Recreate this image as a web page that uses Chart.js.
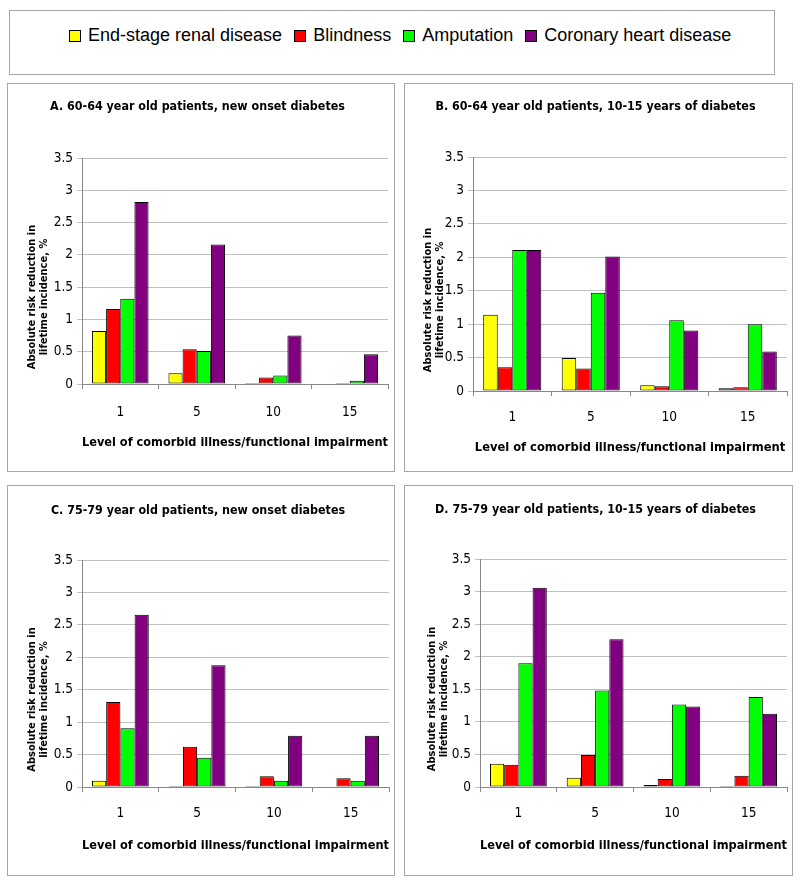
<!DOCTYPE html>
<html>
<head>
<meta charset="utf-8">
<script src="https://cdn.jsdelivr.net/npm/chart.js@4.4.1/dist/chart.umd.min.js"></script>
<style>
  body { margin: 0; background: #fff; width: 800px; height: 882px; position: relative; overflow: hidden; }
  .box { position: absolute; border: 1px solid #a6a6a6; box-sizing: border-box; }
  .wrap { position: absolute; }
  #legend { position: absolute; left: 69px; top: 25px; display: flex; align-items: center;
            font-family: 'Liberation Sans', Arial, sans-serif; font-size: 18px; color: #000; white-space: nowrap; }
  #legend span.sw { display: inline-block; width: 10px; height: 10px; border: 1px solid #000; margin-right: 7px; }
  #legend span.lbl { margin-right: 12px; }
</style>
</head>
<body>
<div class="box" style="left:9px;top:10px;width:766px;height:65px"></div>
<div id="legend"></div>

<script>
const levels = ['1', '5', '10', '15'];
const seriesNames = ['End-stage renal disease', 'Blindness', 'Amputation', 'Coronary heart disease'];
const seriesColors = ['#ffff00', '#ff0000', '#00ff00', '#800080'];
const yTicks = [0, 0.5, 1, 1.5, 2, 2.5, 3, 3.5];
const xTitle = 'Level of comorbid illness/functional impairment';
const yTitle = ['Absolute risk reduction in', 'lifetime incidence, %'];

// A. 60-64, new onset
const renalA = [0.82, 0.165, 0.015, 0];
const blindA = [1.16, 0.54, 0.10, 0.015];
const amputA = [1.32, 0.51, 0.13, 0.05];
const chdA = [2.82, 2.16, 0.75, 0.46];

// B. 60-64, 10-15 years
const renalB = [1.14, 0.495, 0.085, 0.04];
const blindB = [0.355, 0.335, 0.07, 0.055];
const amputB = [2.11, 1.47, 1.06, 1.0];
const chdB = [2.11, 2.01, 0.905, 0.59];

// C. 75-79, new onset
const renalC = [0.097, 0.015, 0.015, 0];
const blindC = [1.31, 0.62, 0.164, 0.133];
const amputC = [0.907, 0.45, 0.097, 0.097];
const chdC = [2.655, 1.876, 0.79, 0.79];

// D. 75-79, 10-15 years
const renalD = [0.358, 0.143, 0.03, 0.015];
const blindD = [0.342, 0.49, 0.123, 0.174];
const amputD = [1.90, 1.48, 1.267, 1.38];
const chdD = [3.06, 2.27, 1.237, 1.124];

const panelTitles = [
  'A. 60-64 year old patients, new onset diabetes',
  'B. 60-64 year old patients, 10-15 years of diabetes',
  'C. 75-79 year old patients, new onset diabetes',
  'D. 75-79 year old patients, 10-15 years of diabetes'
];
const panelSeries = [
  [renalA, blindA, amputA, chdA],
  [renalB, blindB, amputB, chdB],
  [renalC, blindC, amputC, chdC],
  [renalD, blindD, amputD, chdD]
];

// panel boxes and plot area positions (relative to box)
const layouts = [
  { left: 7, top: 83, w: 388, h: 389, pl: 75, pt: 75, pr: 381, pb: 301, tc: 24, xl: 329, xt: 360, yt: 25 },
  { left: 404, top: 83, w: 389, h: 389, pl: 69, pt: 74, pr: 383, pb: 308, tc: 24, xl: 334, xt: 365, yt: 24 },
  { left: 7, top: 485, w: 388, h: 391, pl: 75, pt: 75, pr: 382, pb: 302, tc: 26, xl: 328, xt: 361, yt: 25 },
  { left: 404, top: 485, w: 389, h: 391, pl: 76, pt: 74, pr: 383, pb: 302, tc: 25, xl: 328, xt: 361, yt: 28 }
];

const narrow = "'Liberation Sans Narrow', 'DejaVu Sans Condensed', 'Arial Narrow', sans-serif";

// legend
const legendEl = document.getElementById('legend');
seriesNames.forEach((name, i) => {
  const sw = document.createElement('span');
  sw.className = 'sw';
  sw.style.background = seriesColors[i];
  const lbl = document.createElement('span');
  lbl.className = 'lbl';
  lbl.textContent = name;
  legendEl.appendChild(sw);
  legendEl.appendChild(lbl);
});

// y axis title, drawn a bit below the plot centre like the original
const yTitlePlugin = {
  id: 'yTitle',
  afterDraw(chart, args, opts) {
    const { ctx, chartArea } = chart;
    ctx.save();
    ctx.font = 'bold 11px ' + narrow;
    ctx.fillStyle = '#000';
    ctx.textAlign = 'center';
    ctx.textBaseline = 'middle';
    ctx.translate(opts.x, (chartArea.top + chartArea.bottom) / 2 + 26);
    ctx.rotate(-Math.PI / 2);
    yTitle.forEach((t, i) => ctx.fillText(t, 0, i * 12));
    ctx.restore();
  }
};

layouts.forEach((L, p) => {
  const box = document.createElement('div');
  box.className = 'box';
  Object.assign(box.style, { left: L.left + 'px', top: L.top + 'px', width: L.w + 'px', height: L.h + 'px' });
  document.body.appendChild(box);

  const wrap = document.createElement('div');
  wrap.className = 'wrap';
  Object.assign(wrap.style, { left: L.left + 'px', top: L.top + 'px', width: L.w + 'px', height: L.h + 'px' });
  const canvas = document.createElement('canvas');
  canvas.width = L.w;
  canvas.height = L.h;
  wrap.appendChild(canvas);
  document.body.appendChild(wrap);

  const titleLh = 16;
  const titlePadTop = L.tc - titleLh / 2;
  const tickLh = 16.2;

  new Chart(canvas.getContext('2d'), {
    type: 'bar',
    data: {
      labels: levels,
      datasets: panelSeries[p].map((vals, i) => ({
        label: seriesNames[i],
        data: vals,
        backgroundColor: seriesColors[i],
        borderColor: '#000',
        borderWidth: 1,
        borderSkipped: false,
        barPercentage: 1,
        categoryPercentage: 0.74
      }))
    },
    options: {
      responsive: false,
      animation: false,
      devicePixelRatio: 1,
      layout: { padding: { left: 0, top: 0, bottom: 0, right: L.w - L.pr } },
      plugins: {
        legend: { display: false },
        tooltip: { enabled: false },
        title: {
          display: true,
          text: panelTitles[p],
          color: '#000',
          font: { family: narrow, size: 12.4, weight: 'bold', lineHeight: titleLh / 12.4 },
          padding: { top: titlePadTop, bottom: L.pt - titlePadTop - titleLh }
        },
        yTitle: { x: L.yt }
      },
      scales: {
        x: {
          grid: { drawOnChartArea: false, color: '#888', tickLength: 5 },
          border: { color: '#888' },
          ticks: {
            color: '#000',
            font: { family: narrow, size: 13.5, lineHeight: 1.2 },
            padding: L.xl - L.pb - 5 - tickLh / 2
          },
          title: {
            display: true,
            text: xTitle,
            color: '#000',
            font: { family: narrow, size: 12.8, weight: 'bold', lineHeight: 1.2 },
            padding: { top: 0, bottom: L.h - L.xt - 7.7 }
          },
          afterFit: s => { s.height = L.h - L.pb; }
        },
        y: {
          min: 0,
          max: 3.5,
          afterBuildTicks: s => { s.ticks = yTicks.map(v => ({ value: v })); },
          grid: { color: '#c0c0c0', tickLength: 5 },
          border: { color: '#888' },
          ticks: {
            color: '#000',
            font: { family: narrow, size: 13.5 },
            padding: 4,
            callback: v => String(v)
          },
          afterFit: s => { s.width = L.pl; }
        }
      }
    },
    plugins: [yTitlePlugin]
  });
});
</script>
</body>
</html>
